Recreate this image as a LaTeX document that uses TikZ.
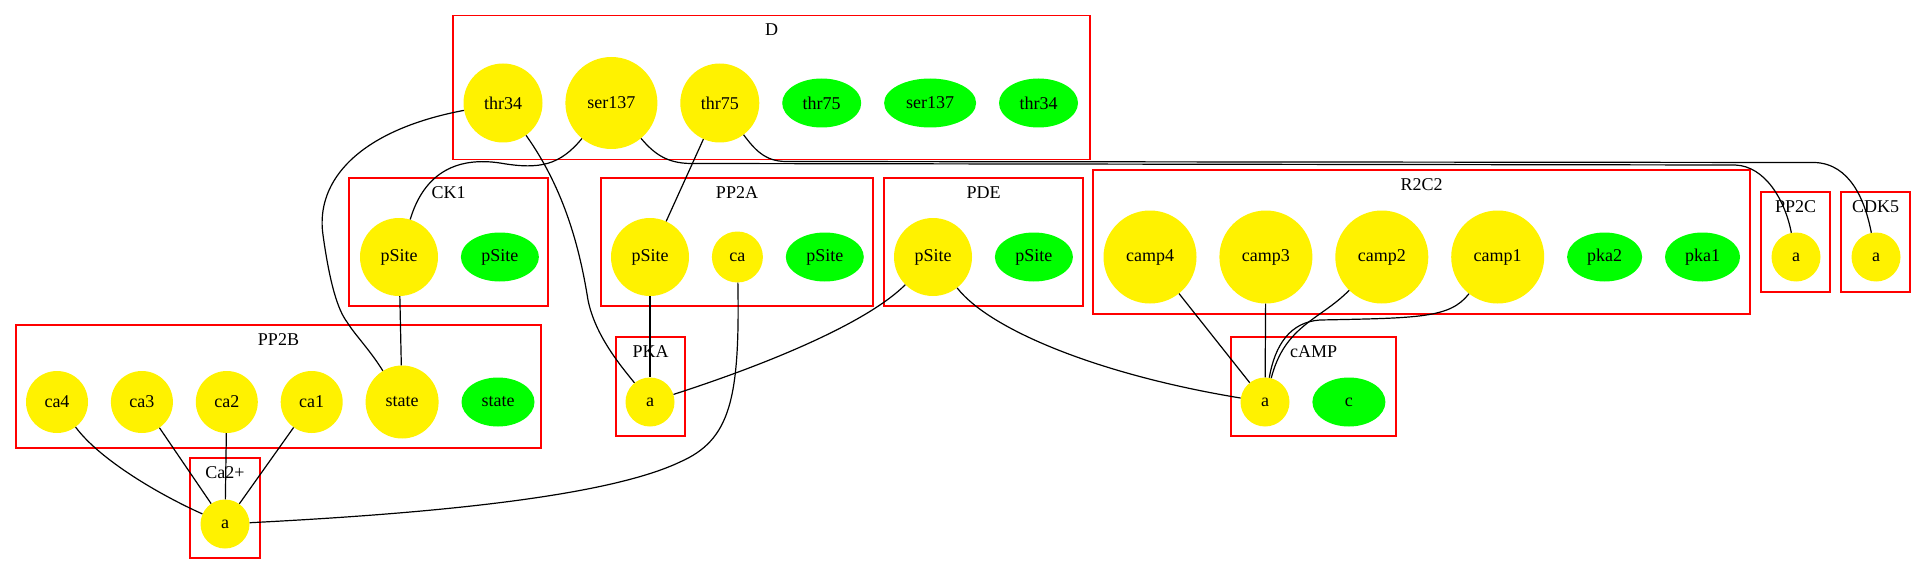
\documentclass[tikz,border=0pt]{standalone}
\usepackage{fontspec}
\setmainfont{Liberation Serif}
\usetikzlibrary{positioning,shapes.geometric}

\begin{document}
\begin{tikzpicture}[x=1pt,y=-1pt,node distance=22.5pt,font=\fontsize{18}{21}\selectfont,
  yel node/.style={circle,fill=yellow,inner sep=0pt,minimum size=#1},
  grn node/.style={ellipse,fill=green,inner sep=0pt,minimum height=49pt,minimum width=#1},
  clus box/.style={draw=red,line width=1.2pt,inner sep=0pt},
  clus lbl/.style={inner sep=0pt},
  link/.style={line width=1.2pt}]
  \useasboundingbox (0,0) rectangle (1927,575);

  \node[clus box,minimum width=637pt,minimum height=143.6pt] (D) at (771.5,87.5) {};
  \node[clus box,minimum width=199pt,minimum height=128pt] (CK1) at (448.5,242) {};
  \node[clus box,minimum width=272pt,minimum height=128pt] (PP2A) at (737,242) {};
  \node[clus box,minimum width=199pt,minimum height=128pt] (PDE) at (983.5,242) {};
  \node[clus box,minimum width=657pt,minimum height=144pt] (R2C2) at (1421.5,242) {};
  \node[clus box,minimum width=69pt,minimum height=100pt] (PP2C) at (1795.5,242) {};
  \node[clus box,minimum width=69pt,minimum height=100pt] (CDK5) at (1875.5,242) {};
  \node[clus box,minimum width=525pt,minimum height=123pt] (PP2B) at (278.5,386.5) {};
  \node[clus box,minimum width=69pt,minimum height=99pt] (PKA) at (650.5,386.5) {};
  \node[clus box,minimum width=165pt,minimum height=99pt] (cAMP) at (1313.5,386.5) {};
  \node[clus box,minimum width=70pt,minimum height=100pt] (Ca) at (225,508) {};

  \node[clus lbl] (D-lbl) at ([yshift=-15pt]D.north) {D};
  \node[clus lbl] (CK1-lbl) at ([yshift=-15pt]CK1.north) {CK1};
  \node[clus lbl] (PP2A-lbl) at ([yshift=-15pt]PP2A.north) {PP2A};
  \node[clus lbl] (PDE-lbl) at ([yshift=-15pt]PDE.north) {PDE};
  \node[clus lbl] (R2C2-lbl) at ([yshift=-15pt]R2C2.north) {R2C2};
  \node[clus lbl] (PP2C-lbl) at ([yshift=-15pt]PP2C.north) {PP2C};
  \node[clus lbl] (CDK5-lbl) at ([yshift=-15pt]CDK5.north) {CDK5};
  \node[clus lbl] (PP2B-lbl) at ([yshift=-15pt]PP2B.north) {PP2B};
  \node[clus lbl] (PKA-lbl) at ([yshift=-15pt]PKA.north) {PKA};
  \node[clus lbl] (cAMP-lbl) at ([yshift=-15pt]cAMP.north) {cAMP};
  \node[clus lbl] (Ca-lbl) at ([yshift=-15pt]Ca.north) {Ca2+};

  \node[yel node=79] (D-thr34) at (503,103) {thr34};
  \node[yel node=92,right=of D-thr34] (D-ser137) {ser137};
  \node[yel node=79,right=of D-ser137] (D-thr75) {thr75};
  \node[grn node=79,right=of D-thr75] (D-thr75g) {thr75};
  \node[grn node=92,right=of D-thr75g] (D-ser137g) {ser137};
  \node[grn node=79,right=of D-ser137g] (D-thr34g) {thr34};

  \node[yel node=78] (CK1-pSite) at (399,257) {pSite};
  \node[grn node=78,right=of CK1-pSite] (CK1-pSiteg) {pSite};

  \node[yel node=78] (PP2A-pSite) at (650,257) {pSite};
  \node[yel node=51,right=of PP2A-pSite] (PP2A-ca) {ca};
  \node[grn node=78,right=of PP2A-ca] (PP2A-pSiteg) {pSite};

  \node[yel node=78] (PDE-pSite) at (933,257) {pSite};
  \node[grn node=78,right=of PDE-pSite] (PDE-pSiteg) {pSite};

  \node[yel node=93] (R2C2-camp4) at (1150,257) {camp4};
  \node[yel node=93,right=of R2C2-camp4] (R2C2-camp3) {camp3};
  \node[yel node=93,right=of R2C2-camp3] (R2C2-camp2) {camp2};
  \node[yel node=93,right=of R2C2-camp2] (R2C2-camp1) {camp1};
  \node[grn node=75,right=of R2C2-camp1] (R2C2-pka2) {pka2};
  \node[grn node=75,right=of R2C2-pka2] (R2C2-pka1) {pka1};

  \node[yel node=49] (PP2C-a) at (1796,257) {a};
  \node[yel node=49] (CDK5-a) at (1876,257) {a};

  \node[yel node=62] (PP2B-ca4) at (57,402) {ca4};
  \node[yel node=62,right=of PP2B-ca4] (PP2B-ca3) {ca3};
  \node[yel node=62,right=of PP2B-ca3] (PP2B-ca2) {ca2};
  \node[yel node=62,right=of PP2B-ca2] (PP2B-ca1) {ca1};
  \node[yel node=73,right=of PP2B-ca1] (PP2B-state) {state};
  \node[grn node=73,right=of PP2B-state] (PP2B-stateg) {state};

  \node[yel node=49] (PKA-a) at (650,402) {a};

  \node[yel node=49] (cAMP-a) at (1265,402) {a};
  \node[grn node=73,right=of cAMP-a] (cAMP-c) {c};

  \node[yel node=49] (Ca-a) at (225,524) {a};

  \draw[link] (D-thr34) .. controls (360,130) and (315,180) .. (323,235)
    .. controls (330,285) and (338,310) .. (347,322)
    .. controls (355,335) and (370,350) .. (PP2B-state);
  \draw[link] (D-thr34) .. controls (565,190) and (580,250) .. (588,300)
    .. controls (595,335) and (620,365) .. (PKA-a);
  \draw[link] (D-ser137) .. controls (560,165) and (540,170) .. (500,163)
    .. controls (460,157) and (425,170) .. (CK1-pSite);
  \draw[link] (D-ser137) .. controls (655,155) and (668,163) .. (690,163.5) -- (1735,165)
    .. controls (1765,166) and (1785,200) .. (PP2C-a);
  \draw[link] (D-thr75) .. controls (755,150) and (765,161) .. (785,161.5) -- (1815,162.5)
    .. controls (1850,164) and (1865,200) .. (CDK5-a);
  \draw[link] (D-thr75) -- (PP2A-pSite);
  \draw[link] (CK1-pSite) -- (PP2B-state);
  \draw[link] (PP2A-pSite) -- (PKA-a);
  \draw[link] (PP2A-ca) .. controls (740,400) and (730,440) .. (680,462)
    .. controls (600,500) and (400,515) .. (Ca-a);
  \draw[link] (PDE-pSite) .. controls (870,320) and (780,360) .. (PKA-a);
  \draw[link] (PDE-pSite) .. controls (990,330) and (1100,375) .. (cAMP-a);
  \draw[link] (R2C2-camp4) -- (cAMP-a);
  \draw[link] (R2C2-camp3) -- (cAMP-a);
  \draw[link] (R2C2-camp2) .. controls (1320,320) and (1285,325) .. (cAMP-a);
  \draw[link] (R2C2-camp1) .. controls (1450,318) and (1420,318) .. (1320,320)
    .. controls (1290,322) and (1275,345) .. (cAMP-a);
  \draw[link] (PP2B-ca4) .. controls (100,460) and (160,495) .. (Ca-a);
  \draw[link] (PP2B-ca3) -- (Ca-a);
  \draw[link] (PP2B-ca2) -- (Ca-a);
  \draw[link] (PP2B-ca1) -- (Ca-a);
\end{tikzpicture}
\end{document}
